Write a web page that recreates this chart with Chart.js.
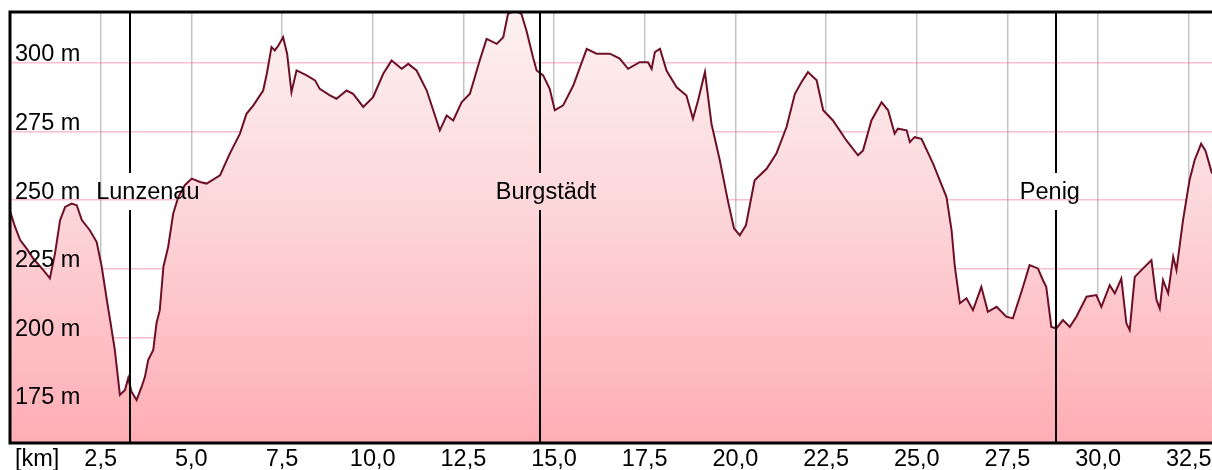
<!DOCTYPE html>
<html>
<head>
<meta charset="utf-8">
<script src="https://cdn.jsdelivr.net/npm/chart.js@4.4.1/dist/chart.umd.min.js"></script>
<style>
  html, body { margin: 0; padding: 0; background: #fff; }
  #wrap { width: 1212px; height: 470px; position: relative; }
</style>
</head>
<body>
<div id="wrap"><canvas id="profile"></canvas></div>
<script>
// elevation profile
const distanceKm = [
  0.00, 0.14, 0.28, 0.46, 0.64, 0.92, 1.10, 1.24, 1.38, 1.52, 1.70, 1.84, 1.98, 2.20, 2.39, 2.53,
  2.67, 2.76, 2.89, 3.03, 3.17, 3.26, 3.35, 3.49, 3.63, 3.72, 3.81, 3.95, 4.04, 4.13, 4.23, 4.36,
  4.50, 4.64, 4.82, 5.01, 5.24, 5.42, 5.79, 6.06, 6.34, 6.52, 6.71, 6.98, 7.08, 7.21, 7.30, 7.40,
  7.53, 7.64, 7.76, 7.90, 8.18, 8.41, 8.54, 8.82, 9.00, 9.28, 9.46, 9.74, 10.01, 10.29, 10.52, 10.80,
  10.98, 11.21, 11.49, 11.85, 12.04, 12.22, 12.45, 12.68, 12.95, 13.14, 13.42, 13.60, 13.73, 13.92, 14.10, 14.24,
  14.42, 14.52, 14.70, 14.88, 15.02, 15.25, 15.53, 15.90, 16.17, 16.54, 16.81, 17.04, 17.36, 17.59, 17.69, 17.78,
  17.92, 18.10, 18.38, 18.65, 18.83, 18.97, 19.16, 19.34, 19.57, 19.79, 19.96, 20.12, 20.29, 20.53, 20.86, 21.13,
  21.41, 21.64, 21.82, 22.00, 22.24, 22.42, 22.69, 23.06, 23.38, 23.52, 23.75, 24.03, 24.21, 24.39, 24.48, 24.72,
  24.81, 24.94, 25.13, 25.45, 25.82, 25.96, 26.05, 26.19, 26.37, 26.55, 26.78, 26.96, 27.20, 27.47, 27.65, 27.93,
  28.11, 28.34, 28.48, 28.57, 28.71, 28.85, 29.03, 29.22, 29.40, 29.68, 29.95, 30.09, 30.32, 30.46, 30.64, 30.78,
  30.87, 31.01, 31.24, 31.47, 31.61, 31.70, 31.79, 31.93, 32.07, 32.16, 32.34, 32.52, 32.66, 32.84, 32.96, 33.14
];
const elevationM = [
  246.0, 240.2, 235.4, 232.3, 228.7, 224.5, 221.5, 230.5, 242.6, 247.5, 248.7, 248.1, 242.7, 239.0, 234.7, 225.6,
  213.6, 206.3, 195.4, 179.0, 180.8, 185.2, 180.2, 177.2, 182.0, 185.6, 191.7, 195.4, 205.2, 209.9, 225.7, 232.9,
  245.1, 251.1, 255.4, 257.8, 256.6, 256.0, 259.0, 266.9, 274.2, 281.4, 284.5, 289.9, 296.0, 305.7, 304.5, 306.3,
  309.3, 303.3, 289.3, 297.2, 295.4, 293.6, 290.5, 288.1, 286.9, 289.9, 288.7, 283.9, 287.5, 296.0, 300.8, 297.8,
  299.6, 297.2, 289.9, 275.4, 280.8, 279.0, 285.6, 288.7, 300.8, 308.7, 306.9, 309.3, 317.8, 319.0, 317.8, 311.7,
  302.0, 297.2, 295.4, 290.5, 282.7, 284.5, 291.7, 305.1, 303.3, 303.3, 301.5, 297.8, 300.2, 300.2, 297.8, 303.9,
  305.1, 297.2, 291.1, 288.1, 279.6, 286.3, 296.6, 277.8, 264.5, 249.9, 239.7, 237.2, 240.8, 257.2, 261.4, 266.9,
  276.6, 288.7, 292.9, 296.6, 293.6, 282.7, 279.0, 271.7, 266.3, 268.1, 279.0, 285.6, 282.7, 274.2, 276.0, 275.4,
  271.1, 272.9, 272.3, 263.3, 251.1, 239.0, 225.7, 212.4, 214.2, 209.9, 218.4, 209.3, 211.1, 207.5, 206.9, 218.4,
  226.3, 225.1, 220.8, 218.4, 203.8, 203.3, 206.3, 203.8, 207.5, 214.8, 215.4, 211.1, 219.0, 216.0, 221.4, 205.1,
  202.6, 222.0, 225.1, 228.1, 213.6, 210.5, 220.8, 216.0, 229.3, 224.5, 242.6, 257.2, 264.5, 270.5, 268.0, 259.7
];

const xTicks = [2.5, 5, 7.5, 10, 12.5, 15, 17.5, 20, 22.5, 25, 27.5, 30, 32.5];
const xTickLabels = ["2,5", "5,0", "7,5", "10,0", "12,5", "15,0", "17,5", "20,0", "22,5", "25,0", "27,5", "30,0", "32,5"];
const xUnitLabel = "[km]";
const yTicks = [175, 200, 225, 250, 275, 300];
const yTickLabels = ["175 m", "200 m", "225 m", "250 m", "275 m", "300 m"];

// towns along the route
const placeNames = ["Lunzenau", "Burgstädt", "Penig"];
const placeKm = [3.31, 14.61, 28.84];
const placeLabelKm = [3.80, 14.78, 28.67];

const FONT = '23.5px "Liberation Sans", Arial, sans-serif';

const overlay = {
  id: "overlay",
  afterDraw(chart) {
    const { ctx, chartArea: a, scales: { x, y } } = chart;
    ctx.save();
    ctx.font = FONT;
    ctx.fillStyle = "#000";

    // town markers with a gap for the name
    const labelY = 192;
    ctx.strokeStyle = "#000";
    ctx.lineWidth = 2;
    placeKm.forEach((km) => {
      const px = Math.round(x.getPixelForValue(km));
      ctx.beginPath();
      ctx.moveTo(px, a.top);
      ctx.lineTo(px, labelY - 19);
      ctx.moveTo(px, labelY + 18);
      ctx.lineTo(px, a.bottom);
      ctx.stroke();
    });
    ctx.textAlign = "center";
    ctx.textBaseline = "middle";
    placeNames.forEach((name, i) => {
      ctx.fillText(name, x.getPixelForValue(placeLabelKm[i]), labelY + 1);
    });

    // y labels sit just above their grid line
    ctx.textAlign = "left";
    yTicks.forEach((v, i) => {
      ctx.fillText(yTickLabels[i], a.left + 5, y.getPixelForValue(v) - 8);
    });

    // x labels under the frame
    ctx.textAlign = "center";
    xTicks.forEach((v, i) => {
      ctx.fillText(xTickLabels[i], x.getPixelForValue(v), a.bottom + 17);
    });
    ctx.textAlign = "left";
    ctx.fillText(xUnitLabel, a.left + 5, a.bottom + 17);

    // frame: top, left, bottom
    ctx.lineWidth = 3;
    ctx.beginPath();
    ctx.moveTo(a.right, a.top);
    ctx.lineTo(a.left, a.top);
    ctx.lineTo(a.left, a.bottom);
    ctx.lineTo(a.right, a.bottom);
    ctx.stroke();
    ctx.restore();
  }
};

new Chart(document.getElementById("profile"), {
  type: "line",
  data: {
    datasets: [{
      data: distanceKm.map((km, i) => ({ x: km, y: elevationM[i] })),
      borderColor: "#6e0f28",
      borderWidth: 2,
      pointRadius: 0,
      tension: 0,
      fill: "start",
      backgroundColor: (context) => {
        const area = context.chart.chartArea;
        if (!area) return "#fdd3d6";
        const g = context.chart.ctx.createLinearGradient(0, area.top, 0, area.bottom);
        g.addColorStop(0, "#fdf1f1");
        g.addColorStop(0.45, "#fcd7da");
        g.addColorStop(1, "#ffadb5");
        return g;
      }
    }]
  },
  options: {
    responsive: true,
    maintainAspectRatio: false,
    animation: false,
    layout: { padding: { left: 10, top: 12, right: 0, bottom: 27 } },
    plugins: {
      legend: { display: false },
      tooltip: { enabled: false }
    },
    scales: {
      x: {
        type: "linear",
        min: 0,
        max: 33.14,
        z: 1,
        afterBuildTicks: (scale) => { scale.ticks = xTicks.map((v) => ({ value: v })); },
        ticks: { display: false },
        grid: { color: "rgba(110,110,110,0.4)", lineWidth: 1.5, drawTicks: false },
        border: { display: false }
      },
      y: {
        min: 161.5,
        max: 318.5,
        z: 1,
        afterBuildTicks: (scale) => { scale.ticks = yTicks.map((v) => ({ value: v })); },
        ticks: { display: false },
        grid: { color: "rgba(240,110,150,0.45)", lineWidth: 1.5, drawTicks: false },
        border: { display: false }
      }
    }
  },
  plugins: [overlay]
});
</script>
</body>
</html>
